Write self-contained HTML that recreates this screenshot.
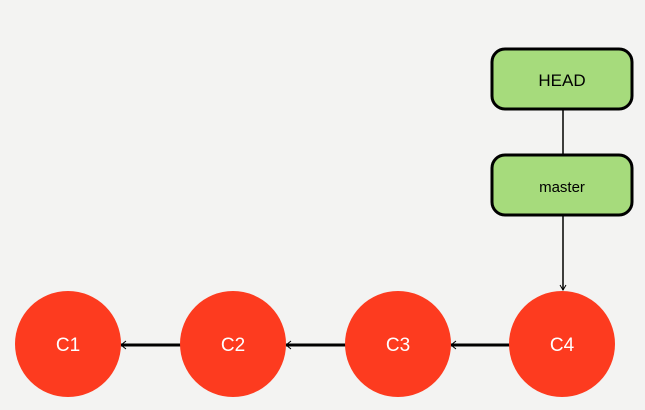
<!DOCTYPE html>
<html><head><meta charset="utf-8"><style>
html,body{margin:0;padding:0;background:#f3f3f2;}
svg{display:block}
text{font-family:"Liberation Sans",sans-serif;}
</style></head><body>
<svg width="645" height="410" viewBox="0 0 645 410">
<rect width="645" height="410" fill="#f3f3f2"/>
<g stroke="#000" stroke-width="3">
<line x1="121" y1="345" x2="181" y2="345"/>
<line x1="286" y1="345" x2="346" y2="345"/>
<line x1="451" y1="345" x2="511" y2="345"/>
</g>
<g fill="none" stroke="#000" stroke-width="1">
<path d="M126 341 L121 345 L126 349"/>
<path d="M291 341 L286 345 L291 349"/>
<path d="M456 341 L451 345 L456 349"/>
<path d="M560 285 L563 290 L566 285"/>
</g>
<line x1="563" y1="110" x2="563" y2="154" stroke="#000" stroke-width="1.5"/>
<line x1="563" y1="216" x2="563" y2="290" stroke="#000" stroke-width="1.5"/>
<g fill="#fd3b1f">
<circle cx="68" cy="344" r="53"/>
<circle cx="233" cy="344" r="53"/>
<circle cx="398" cy="344" r="53"/>
<circle cx="562" cy="344" r="53"/>
</g>
<g fill="#fff" font-size="19" text-anchor="middle">
<text x="68" y="351">C1</text>
<text x="233" y="351">C2</text>
<text x="398" y="351">C3</text>
<text x="562" y="351">C4</text>
</g>
<rect x="492" y="49" width="140" height="60" rx="13" fill="#a6db7c" stroke="#000" stroke-width="3"/>
<rect x="492" y="155" width="140" height="60" rx="13" fill="#a6db7c" stroke="#000" stroke-width="3"/>
<text x="562" y="86" font-size="17" text-anchor="middle" fill="#000">HEAD</text>
<text x="562" y="192" font-size="15" text-anchor="middle" fill="#000">master</text>
</svg>
</body></html>
